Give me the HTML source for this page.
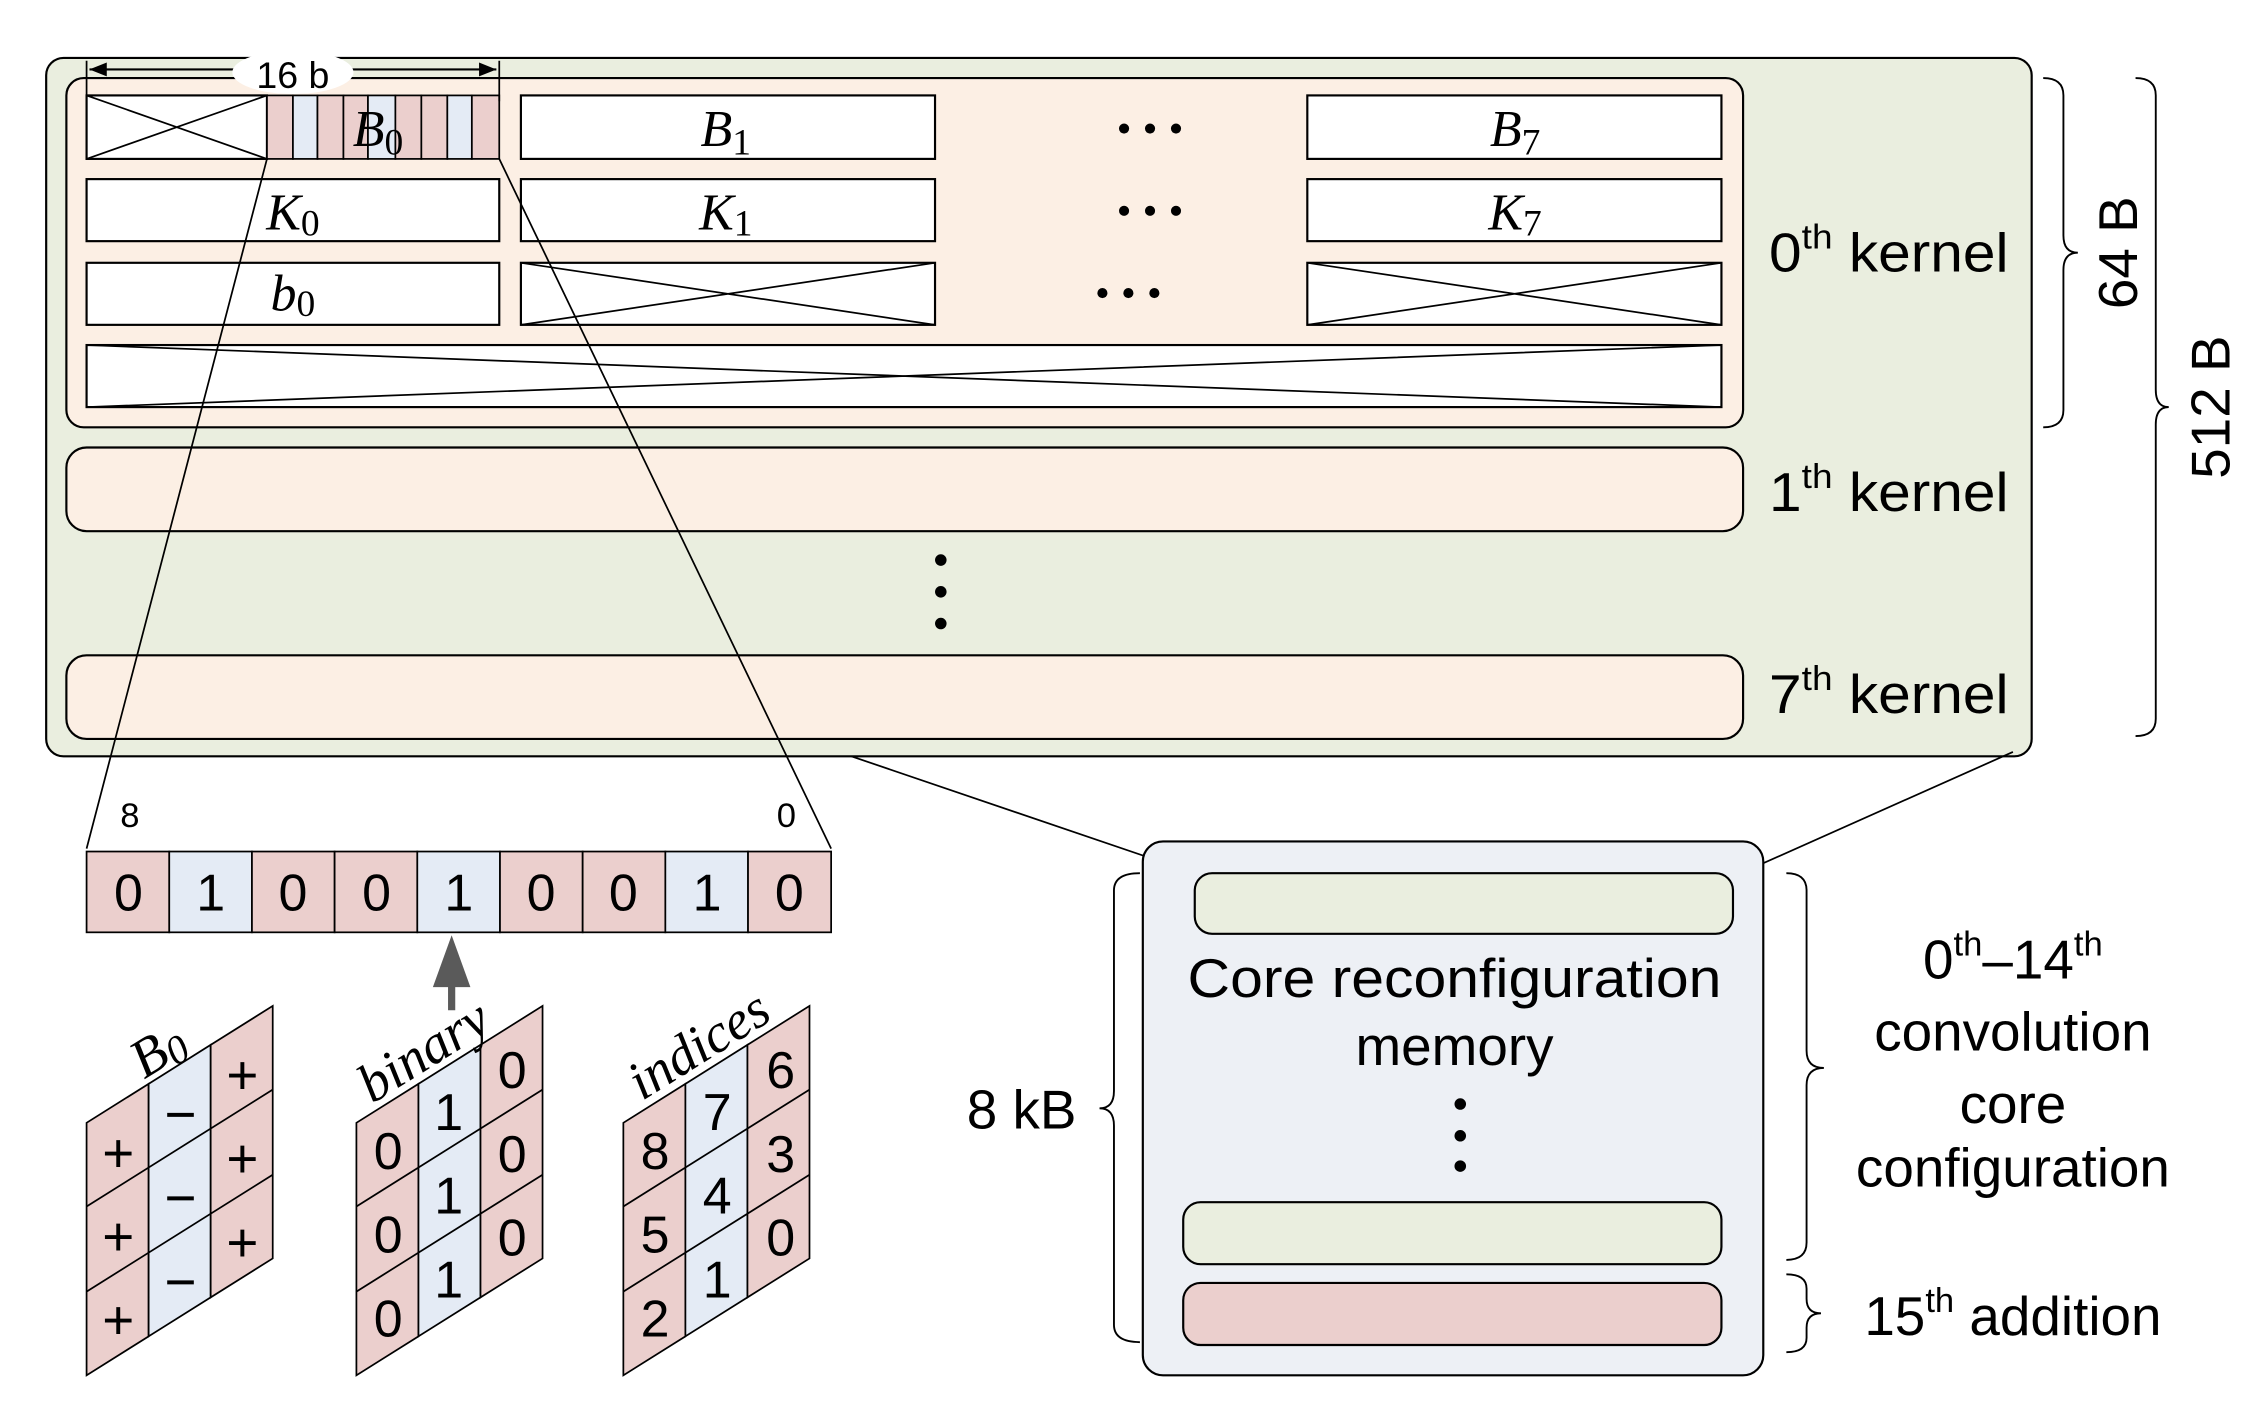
<!DOCTYPE html>
<html><head><meta charset="utf-8"><style>html,body{margin:0;padding:0;background:#fff}svg{display:block}</style></head>
<body>
<svg width="2251" height="1426" viewBox="0 0 1560 988" xmlns="http://www.w3.org/2000/svg">
<defs><marker id="ar" viewBox="0 0 10 10" refX="10" refY="5" markerWidth="8" markerHeight="8" orient="auto-start-reverse"><path d="M0,1 L10,5 L0,9 Z" fill="#000"/></marker></defs>
<g stroke="#000" stroke-width="1.5" font-family="Liberation Sans, sans-serif">
<rect x="32" y="40" width="1376" height="484" rx="12" fill="#eaeedf"/>
<rect x="46" y="54" width="1162" height="242" rx="12" fill="#fcefe4"/>
<rect x="46" y="310" width="1162" height="58" rx="14" fill="#fcefe4"/>
<rect x="46" y="454" width="1162" height="58" rx="14" fill="#fcefe4"/>
<!-- row1 -->
<rect x="60" y="66" width="125" height="44" fill="#fff"/><path d="M60,66 L185,110 M60,110 L185,66" stroke-width="1.2"/>
<g stroke-width="1.2">
<rect x="185" y="66" width="18" height="44" fill="#ebcfcd"/><rect x="203" y="66" width="17" height="44" fill="#e4ebf5"/>
<rect x="220" y="66" width="18" height="44" fill="#ebcfcd"/><rect x="238" y="66" width="17" height="44" fill="#ebcfcd"/>
<rect x="255" y="66" width="19" height="44" fill="#e4ebf5"/><rect x="274" y="66" width="18" height="44" fill="#ebcfcd"/>
<rect x="292" y="66" width="18" height="44" fill="#ebcfcd"/><rect x="310" y="66" width="17" height="44" fill="#e4ebf5"/>
<rect x="327" y="66" width="19" height="44" fill="#ebcfcd"/></g>
<rect x="361" y="66" width="287" height="44" fill="#fff"/>
<rect x="906" y="66" width="287" height="44" fill="#fff"/>
<rect x="60" y="124" width="286" height="43" fill="#fff"/>
<rect x="361" y="124" width="287" height="43" fill="#fff"/>
<rect x="906" y="124" width="287" height="43" fill="#fff"/>
<rect x="60" y="182" width="286" height="43" fill="#fff"/>
<rect x="361" y="182" width="287" height="43" fill="#fff"/><path d="M361,182 L648,225 M361,225 L648,182" stroke-width="1.2"/>
<rect x="906" y="182" width="287" height="43" fill="#fff"/><path d="M906,182 L1193,225 M906,225 L1193,182" stroke-width="1.2"/>
<rect x="60" y="239" width="1133" height="43" fill="#fff"/><path d="M60,239 L1193,282 M60,282 L1193,239" stroke-width="1.2"/>
<!-- 16b arrow -->
<path d="M60,42 V70 M346,42 V70" stroke-width="1.2"/>
<line x1="62" y1="48" x2="344" y2="48" marker-start="url(#ar)" marker-end="url(#ar)"/>
<ellipse cx="203" cy="50" rx="42" ry="15" fill="#fff" stroke="none"/>
<!-- zoom lines -->
<path d="M185,110 L60,588 M346,110 L576,588" stroke-width="1.2" fill="none"/>
<path d="M590,524 L828,605 M1395,521 L1202,607" stroke-width="1.2" fill="none"/>
<!-- bits -->
<g stroke-width="1.2">
<rect x="60" y="590" width="57.3" height="56" fill="#ebcfcd"/><rect x="117.3" y="590" width="57.3" height="56" fill="#e4ebf5"/>
<rect x="174.6" y="590" width="57.3" height="56" fill="#ebcfcd"/><rect x="231.9" y="590" width="57.3" height="56" fill="#ebcfcd"/>
<rect x="289.2" y="590" width="57.3" height="56" fill="#e4ebf5"/><rect x="346.5" y="590" width="57.3" height="56" fill="#ebcfcd"/>
<rect x="403.8" y="590" width="57.3" height="56" fill="#ebcfcd"/><rect x="461.1" y="590" width="57.3" height="56" fill="#e4ebf5"/>
<rect x="518.4" y="590" width="57.6" height="56" fill="#ebcfcd"/></g>
<!-- gray arrow -->
<path d="M313,700 V680" stroke="#5a5a5a" stroke-width="5"/>
<path d="M313,648 L300,684 L326,684 Z" fill="#5a5a5a" stroke="none"/>
<!-- matrices -->
<g stroke-width="1.2">
<g id="m1">
<path d="M60,778 l43,-27 v175 l-43,27 Z" fill="#ebcfcd"/>
<path d="M103,751 l43,-27 v175 l-43,27 Z" fill="#e4ebf5"/>
<path d="M146,724 l43,-27 v175 l-43,27 Z" fill="#ebcfcd"/>
<path d="M60,836 l129,-81 M60,895 l129,-81" fill="none"/>
</g>
<use href="#m1" x="187"/>
<use href="#m1" x="372"/>
</g>
<!-- braces -->
<g fill="none" stroke-width="1.3">
<path d="M1416,54 Q1430,54 1430,66 V163 Q1430,175 1440,175 Q1430,175 1430,187 V284 Q1430,296 1416,296"/>
<path d="M1480,54 Q1494,54 1494,66 V270 Q1494,282 1503,282 Q1494,282 1494,294 V498 Q1494,510 1480,510"/>
<path d="M790,605 Q772,605 772,617 V756 Q772,768 762,768 Q772,768 772,780 V918 Q772,930 790,930"/>
<path d="M1238,605 Q1252,605 1252,617 V728 Q1252,740 1264,740 Q1252,740 1252,752 V861 Q1252,873 1238,873"/>
<path d="M1238,883 Q1252,883 1252,893 V900 Q1252,910 1262,910 Q1252,910 1252,920 V927 Q1252,937 1238,937"/>
</g>
<!-- right box -->
<rect x="792" y="583" width="430" height="370" rx="14" fill="#edf0f5"/>
<rect x="828" y="605" width="373" height="42" rx="12" fill="#eaeedf"/>
<rect x="820" y="833" width="373" height="43" rx="12" fill="#eaeedf"/>
<rect x="820" y="889" width="373" height="43" rx="12" fill="#ebcfcd"/>
</g>
<g font-family="Liberation Sans, sans-serif" fill="#000">
<text x="203" y="61" font-size="26" text-anchor="middle">16 b</text>
<g font-family="Liberation Serif, serif" font-style="italic" font-size="36" text-anchor="middle">
<text x="262" y="101">B<tspan font-style="normal" font-size="26" dy="6">0</tspan></text>
<text x="503" y="101">B<tspan font-style="normal" font-size="26" dy="6">1</tspan></text>
<text x="1050" y="101">B<tspan font-style="normal" font-size="26" dy="6">7</tspan></text>
<text x="203" y="159">K<tspan font-style="normal" font-size="26" dy="4">0</tspan></text>
<text x="503" y="159">K<tspan font-style="normal" font-size="26" dy="4">1</tspan></text>
<text x="1050" y="159">K<tspan font-style="normal" font-size="26" dy="4">7</tspan></text>
<text x="203" y="215">b<tspan font-style="normal" font-size="26" dy="4">0</tspan></text>
</g>
<g font-size="38">
<circle cx="779" cy="89" r="3.5"/><circle cx="797" cy="89" r="3.5"/><circle cx="815" cy="89" r="3.5"/>
<circle cx="779" cy="146" r="3.5"/><circle cx="797" cy="146" r="3.5"/><circle cx="815" cy="146" r="3.5"/>
<circle cx="764" cy="203" r="3.5"/><circle cx="782" cy="203" r="3.5"/><circle cx="800" cy="203" r="3.5"/>
<circle cx="652" cy="388" r="4"/><circle cx="652" cy="410" r="4"/><circle cx="652" cy="432" r="4"/>
<circle cx="1012" cy="765" r="4"/><circle cx="1012" cy="787" r="4"/><circle cx="1012" cy="808" r="4"/>
<text x="1226" y="188" textLength="166" lengthAdjust="spacingAndGlyphs">0<tspan font-size="24" dy="-16">th</tspan><tspan dy="16"> kernel</tspan></text>
<text x="1226" y="354" textLength="166" lengthAdjust="spacingAndGlyphs">1<tspan font-size="24" dy="-16">th</tspan><tspan dy="16"> kernel</tspan></text>
<text x="1226" y="494" textLength="166" lengthAdjust="spacingAndGlyphs">7<tspan font-size="24" dy="-16">th</tspan><tspan dy="16"> kernel</tspan></text>
<text transform="translate(1481,175) rotate(-90)" text-anchor="middle">64 B</text>
<text transform="translate(1545,282) rotate(-90)" text-anchor="middle">512 B</text>
<text x="1008" y="691" text-anchor="middle" textLength="370" lengthAdjust="spacingAndGlyphs">Core reconfiguration</text>
<text x="1008" y="738" text-anchor="middle">memory</text>
<text x="746" y="782" text-anchor="end">8 kB</text>
<text x="1395" y="678" text-anchor="middle">0<tspan font-size="24" dy="-16">th</tspan><tspan dy="16">–14</tspan><tspan font-size="24" dy="-16">th</tspan></text>
<text x="1395" y="728" text-anchor="middle">convolution</text>
<text x="1395" y="778" text-anchor="middle">core</text>
<text x="1395" y="822" text-anchor="middle">configuration</text>
<text x="1395" y="925" text-anchor="middle">15<tspan font-size="24" dy="-16">th</tspan><tspan dy="16"> addition</tspan></text>
</g>
<text x="90" y="573" font-size="24" text-anchor="middle">8</text>
<text x="545" y="573" font-size="24" text-anchor="middle">0</text>
<g font-size="36" text-anchor="middle">
<text x="89" y="631">0</text><text x="146" y="631">1</text><text x="203" y="631">0</text><text x="261" y="631">0</text><text x="318" y="631">1</text><text x="375" y="631">0</text><text x="432" y="631">0</text><text x="490" y="631">1</text><text x="547" y="631">0</text>
</g>
<g font-size="38" text-anchor="middle">
<text x="82" y="812">+</text><text x="82" y="870">+</text><text x="82" y="928">+</text>
<text x="125" y="785">−</text><text x="125" y="843">−</text><text x="125" y="901">−</text>
<text x="168" y="758">+</text><text x="168" y="816">+</text><text x="168" y="874">+</text>
</g>
<g font-size="36" text-anchor="middle">
<text x="269" y="810">0</text><text x="269" y="868">0</text><text x="269" y="926">0</text>
<text x="311" y="783">1</text><text x="311" y="841">1</text><text x="311" y="899">1</text>
<text x="355" y="754">0</text><text x="355" y="812">0</text><text x="355" y="870">0</text>
<text x="454" y="810">8</text><text x="454" y="868">5</text><text x="454" y="926">2</text>
<text x="497" y="783">7</text><text x="497" y="841">4</text><text x="497" y="899">1</text>
<text x="541" y="754">6</text><text x="541" y="812">3</text><text x="541" y="870">0</text>
</g>
<g font-family="Liberation Serif, serif" font-style="italic" font-size="38">
<text transform="translate(100,748) rotate(-32)">B<tspan font-size="28" dy="4">0</tspan></text>
<text transform="translate(258,765) rotate(-32)">binary</text>
<text transform="translate(445,763) rotate(-32)">indices</text>
</g>
</g>
</svg>
</body></html>
